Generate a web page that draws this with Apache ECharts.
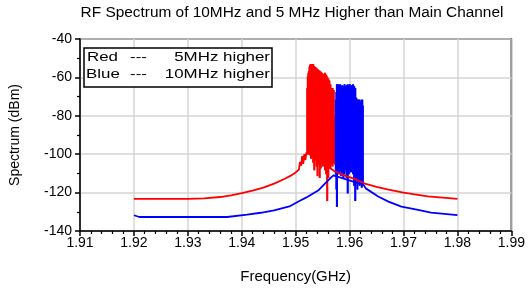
<!DOCTYPE html>
<html>
<head>
<meta charset="utf-8">
<script src="https://cdn.jsdelivr.net/npm/echarts@6/dist/echarts.min.js"></script>
<style>
  html, body { margin: 0; padding: 0; background: #fff; }
  #chart { width: 528px; height: 290px; }
</style>
</head>
<body>
<div id="chart"></div>
<script>
// smooth skirts of each spectrum, [GHz, dBm]
var redLeft = [[1.92,-123.3],[1.93,-123.3],[1.933,-123],[1.936,-122.3],[1.938,-121.5],[1.94,-120.3],[1.942,-119],[1.944,-117.4],
  [1.946,-115.3],[1.948,-112.8],[1.949,-111.3],[1.95,-109.5],
  [1.9506,-108],[1.9508,-104],[1.951,-106],[1.9512,-101],[1.9514,-105],[1.9516,-100],[1.9518,-103],[1.952,-99]];
var redRight = [[1.9573,-109],[1.959,-111],[1.961,-113],[1.963,-115.5],[1.965,-117],[1.967,-118.3],[1.97,-120],[1.9745,-122],[1.98,-123.3]];
var blueLeft = [[1.92,-131.8],[1.921,-132.7],[1.9373,-132.7],[1.9375,-131.7],[1.941,-131.5],[1.9435,-130.5],[1.946,-129.2],
  [1.949,-127],[1.9506,-124.5],[1.952,-122.5],[1.9543,-118.6],[1.9561,-113.4],[1.957,-111]];
var blueRight = [[1.9626,-116],[1.963,-117.8],[1.9653,-122],[1.9672,-124.7],[1.9696,-127.3],[1.9727,-129],[1.9751,-130.4],[1.98,-131.7]];

// in-band bursts: peak and trough every 0.1 MHz
var burstStep = 0.0001;
var redBurstStart = 1.9521;
var redBurstTop = [
  -66,-60,-58,-57,-55,-54,-53.5,-53.5,-53.5,-53.5,
  -53.5,-53.5,-53.5,-54.5,-54.5,-55,-55,-55.5,-55.5,-56,
  -56,-56.5,-56.5,-57,-57,-57.5,-57.5,-58,-58,-58.5,
  -58.5,-59,-59,-58,-58,-59,-59,-60,-60,-61,
  -61,-62,-62,-64,-64,-66,-66,-66,-66,-67,
  -67,-80];
var redBurstLow = [
  -100,-99,-98,-99,-99,-100,-100,-102,-102,-101,
  -101,-104,-104,-108,-108,-103,-103,-106,-106,-111,
  -111,-105,-105,-112,-112,-107,-107,-103,-103,-106,
  -106,-102,-102,-108,-108,-110,-110,-124,-124,-112,
  -112,-106,-106,-107,-107,-105,-105,-106,-106,-104,
  -104,-105];
var blueBurstStart = 1.9574;
var blueBurstTop = [
  -72,-68,-64,-64,-64,-64,-64.5,-64.5,-64,-64,
  -65,-65,-64.5,-64.5,-65,-65,-64,-64,-65,-65,
  -64.5,-64.5,-64,-64,-65,-65,-64,-64,-64.5,-64.5,
  -65,-65,-64,-64,-65,-65,-66,-66,-71,-71,
  -72,-72,-72,-72,-72,-72,-73,-73,-72,-72,
  -72,-75];
var blueBurstLow = [
  -110,-118,-127,-127,-108,-108,-110,-110,-108,-108,
  -111,-111,-109,-109,-112,-112,-110,-110,-108,-108,
  -112,-112,-120,-120,-110,-110,-108,-108,-109,-109,
  -107,-107,-110,-110,-116,-116,-124,-124,-112,-112,
  -118,-118,-113,-113,-116,-116,-114,-114,-117,-117,
  -116,-116];

var xTicks = [1.91, 1.92, 1.93, 1.94, 1.95, 1.96, 1.97, 1.98, 1.99];
var yTicks = [-140, -120, -100, -80, -60, -40];

// [freq, peak, trough] per burst sample
var buildBurst = function (start, tops, lows) {
  var res = [];
  for (var i = 0; i < tops.length; i++) {
    res.push([start + i * burstStep, tops[i], lows[i]]);
  }
  return res;
};

var redSkirt = redLeft.concat(redRight);
var blueSkirt = blueLeft.concat(blueRight);
var redBurst = buildBurst(redBurstStart, redBurstTop, redBurstLow);
var blueBurst = buildBurst(blueBurstStart, blueBurstTop, blueBurstLow);

var burstRenderer = function (color) {
  return function (params, api) {
    var p1 = api.coord([api.value(0), api.value(1)]);
    var p2 = api.coord([api.value(0), api.value(2)]);
    return {
      type: 'rect',
      shape: { x: p1[0] - 0.8, y: p1[1] - 0.8, width: 1.6, height: p2[1] - p1[1] + 1.6 },
      style: { fill: color }
    };
  };
};

var font = 'Liberation Sans, Arial, sans-serif';
var chart = echarts.init(document.getElementById('chart'));

// stretched text piece for the title / legend box
var label = function (text, x, y, align, sx, size) {
  return {
    type: 'text', z: 11, x: x, y: y, scaleX: sx,
    style: { text: text, x: 0, y: 0, textAlign: align, textVerticalAlign: 'middle',
      fill: '#000', font: size + 'px ' + font }
  };
};

var option = {
  animation: false,
  backgroundColor: '#fff',
  grid: {
    left: 80, right: 15, top: 39, bottom: 59,
    show: true, borderColor: '#000', borderWidth: 1.5
  },
  xAxis: {
    type: 'value',
    min: xTicks[0], max: xTicks[xTicks.length - 1], interval: 0.01,
    name: 'Frequency(GHz)', nameLocation: 'middle', nameGap: 38,
    nameTextStyle: { color: '#000', fontSize: 15, fontFamily: font },
    axisLine: { lineStyle: { color: '#000', width: 1.5 } },
    axisTick: { inside: false, length: 5, lineStyle: { color: '#000', width: 1.5 } },
    minorTick: { show: true, splitNumber: 5, length: 3, lineStyle: { color: '#000', width: 1.2 } },
    axisLabel: { color: '#000', fontSize: 14, fontFamily: font, margin: 5,
      formatter: function (v) { return v.toFixed(2); } },
    splitLine: { show: true, lineStyle: { color: '#d4d4d4', width: 1.5 } }
  },
  yAxis: {
    type: 'value',
    min: yTicks[0], max: yTicks[yTicks.length - 1], interval: 20,
    name: 'Spectrum (dBm)', nameLocation: 'middle', nameGap: 58,
    nameTextStyle: { color: '#000', fontSize: 14, fontFamily: font },
    axisLine: { lineStyle: { color: '#000', width: 1.5 } },
    axisTick: { inside: false, length: 5, lineStyle: { color: '#000', width: 1.5 } },
    minorTick: { show: true, splitNumber: 2, length: 3, lineStyle: { color: '#000', width: 1.2 } },
    axisLabel: { color: '#000', fontSize: 14, fontFamily: font, margin: 8 },
    splitLine: { show: true, lineStyle: { color: '#d4d4d4', width: 1.5 } }
  },
  graphic: [
    label('RF Spectrum of 10MHz and 5 MHz Higher than Main Channel', 292, 13, 'center', 1.1, 14),
    {
      type: 'rect', z: 10,
      shape: { x: 84, y: 48, width: 188, height: 39 },
      style: { fill: '#fff', stroke: '#000', lineWidth: 1.5 }
    },
    label('Red', 87, 57, 'left', 1.3, 13),
    label('---', 130, 57, 'left', 1.3, 13),
    label('5MHz higher', 270, 57, 'right', 1.3, 13),
    label('Blue', 86, 74, 'left', 1.3, 13),
    label('---', 130, 74, 'left', 1.3, 13),
    label('10MHz higher', 270, 74, 'right', 1.3, 13)
  ],
  series: [
    {
      name: 'Red', type: 'line', data: redSkirt, showSymbol: false,
      lineStyle: { color: '#ff0000', width: 1.8 }
    },
    {
      name: 'Red', type: 'custom', data: redBurst, renderItem: burstRenderer('#ff0000'),
      encode: { x: 0, y: [1, 2] }
    },
    {
      name: 'Blue', type: 'line', data: blueSkirt, showSymbol: false,
      lineStyle: { color: '#0000ff', width: 1.8 }
    },
    {
      name: 'Blue', type: 'custom', data: blueBurst, renderItem: burstRenderer('#0000ff'),
      encode: { x: 0, y: [1, 2] }
    }
  ]
};

chart.setOption(option);
window.onresize = function () { chart.resize(); };
</script>
</body>
</html>
